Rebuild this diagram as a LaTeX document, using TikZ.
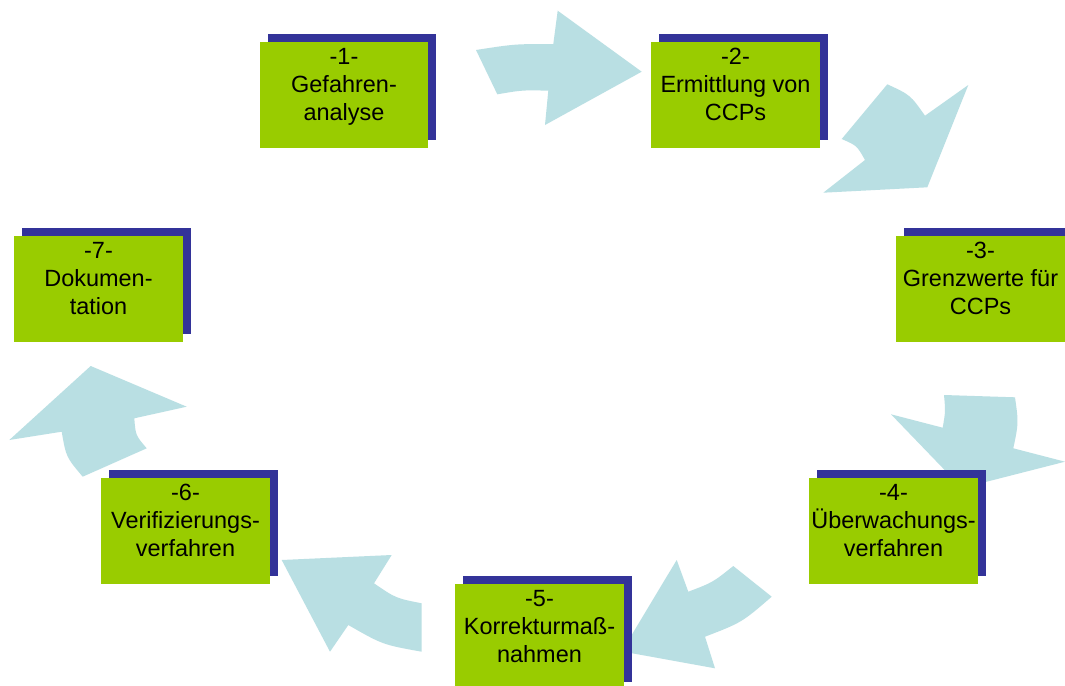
\documentclass[tikz,border=0pt]{standalone}
\usepackage{fontspec}
\setmainfont{Liberation Sans}
\usetikzlibrary{shadows}
\definecolor{boxgreen}{HTML}{99CC00}
\definecolor{boxblue}{HTML}{333399}
\definecolor{arrowblue}{HTML}{B9DFE3}
\begin{document}
\begin{tikzpicture}[x=0.75pt,y=-0.75pt,
  stepbox/.style={fill=boxgreen, draw=none, minimum width=126.5pt, minimum height=79.5pt, inner sep=0pt,
    general shadow={fill=boxblue, shadow xshift=6pt, shadow yshift=6pt}},
  steptext/.style={anchor=north, inner sep=0pt, align=center, text=black,
    font=\fontsize{17.6pt}{21pt}\selectfont},
  flow/.style={fill=arrowblue, draw=none}]
\useasboundingbox (0,0) rectangle (1065,686);
\fill[white] (0,0) rectangle (1065,686);

% curved block arrows
\fill[flow] (476,50) .. controls (514.7,44) .. (553.3,44) -- (557.7,10.7) -- (641.7,71.7) -- (545,125) -- (548.3,90.7) .. controls (522.8,90) .. (497.3,94.3) -- cycle;
\fill[flow] (887.3,84.3) .. controls (910.3,94.9) .. (925,115.7) -- (968.3,85) -- (927.3,187.3) -- (823.3,192.7) -- (865,160) .. controls (856.9,145.6) .. (841.7,139) -- cycle;
\fill[flow] (944,395) -- (1015,397.3) .. controls (1018.6,422.8) .. (1013.3,448.3) -- (1065,461.7) -- (962,488) -- (891,414.3) -- (942.7,427.7) .. controls (945.5,411.3) .. (944,395) -- cycle;
\fill[flow] (676.7,560) -- (688.3,591.7) .. controls (712.8,582.4) .. (733.3,566) -- (771.7,596.7) .. controls (741.8,622.5) .. (705,636.7) -- (715,668.3) -- (621.8,651.4) -- cycle;
\fill[flow] (281.7,560) -- (391.7,555) -- (374,583.3) .. controls (395.8,598.2) .. (421.7,603.3) -- (421.7,651.7) .. controls (382.7,644.7) .. (348.3,625) -- (330,651.7) -- cycle;
\fill[flow] (90.7,366) -- (186.7,406.7) -- (134.3,418.3) .. controls (135.6,435.3) .. (146.7,448.3) -- (82.7,476.7) .. controls (66.1,457) .. (61.7,431.7) -- (9.3,440) -- cycle;

% step boxes
\node[stepbox] (b1) at (344,95) {};
\node[stepbox] (b2) at (735.5,95) {};
\node[stepbox] (b3) at (980.5,289) {};
\node[stepbox] (b4) at (893.5,530.5) {};
\node[stepbox] (b5) at (539.5,637) {};
\node[stepbox] (b6) at (185.5,530.5) {};
\node[stepbox] (b7) at (98.5,289) {};

\node[steptext] (t1) at (b1.north) {\rule{0pt}{17pt}-1-\\Gefahren-\\analyse};
\node[steptext] (t2) at (b2.north) {\rule{0pt}{17pt}-2-\\Ermittlung von\\CCPs};
\node[steptext] (t3) at (b3.north) {\rule{0pt}{17pt}-3-\\Grenzwerte für\\CCPs};
\node[steptext] (t4) at (b4.north) {\rule{0pt}{17pt}-4-\\Überwachungs-\\verfahren};
\node[steptext] (t5) at (b5.north) {\rule{0pt}{17pt}-5-\\Korrekturmaß-\\nahmen};
\node[steptext] (t6) at (b6.north) {\rule{0pt}{17pt}-6-\\Verifizierungs-\\verfahren};
\node[steptext] (t7) at (b7.north) {\rule{0pt}{17pt}-7-\\Dokumen-\\tation};
\end{tikzpicture}
\end{document}
